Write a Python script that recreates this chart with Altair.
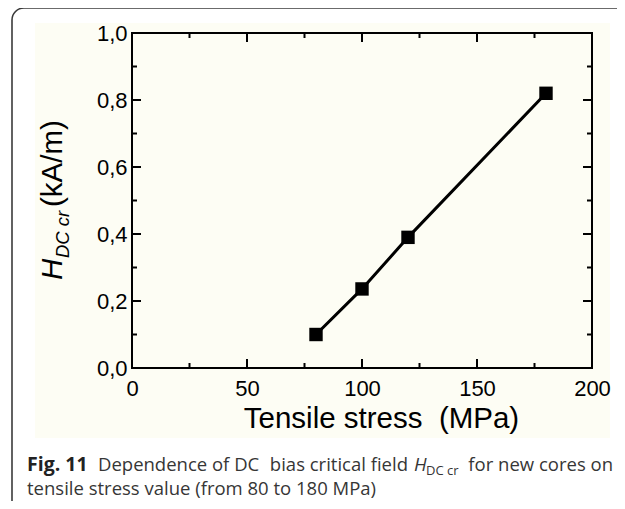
import altair as alt
import pandas as pd

# ---- data ----
stress = [80, 100, 120, 180]
h_dc_cr = [0.10, 0.236, 0.39, 0.82]

x_major = [0, 50, 100, 150, 200]
x_minor = [25, 75, 125, 175]
y_major = [0.0, 0.2, 0.4, 0.6, 0.8, 1.0]
y_minor = [0.1, 0.3, 0.5, 0.7, 0.9]

x_title = "Tensile stress\u00a0\u00a0(MPa)"
y_title_main = "H"
y_title_sub = "DC cr"
y_title_unit = "(kA/m)"
caption_fig = "Fig. 11"
caption_l1a = "Dependence of DC"
caption_l1b = "bias critical field"
caption_h = "H"
caption_sub = "DC cr"
caption_l1_end = "for new cores on"
caption_l2 = "tensile stress value (from 80 to 180 MPa)"

W, H = 460, 335
FONT = "Liberation Sans"
CAP_FONT = "Open Sans"
CAP_COLOR = "#363636"
BOX_COLOR = "#3a3a3a"

xs = alt.Scale(domain=[0, 200], nice=False, zero=False)
ys = alt.Scale(domain=[0, 1], nice=False)

x_axis = alt.Axis(values=x_major, title=None, ticks=False, domain=False, grid=False,
                  labelFont=FONT, labelFontSize=22, labelColor="black", labelPadding=10,
                  labelFlush=False, labelOverlap=False, zindex=2, format="d")
y_axis = alt.Axis(values=y_major, title=None, ticks=False, domain=False, grid=False,
                  labelFont=FONT, labelFontSize=22, labelColor="black", labelPadding=5,
                  labelFlush=False, labelOverlap=False, zindex=2,
                  labelExpr="replace(format(datum.value, '.1f'), '.', ',')")

def blank():
    return alt.Chart(pd.DataFrame({"a": [0]}))

# outer caption box: top edge, left edge and rounded top-left corner
box_top = blank().mark_rule(color=BOX_COLOR, strokeWidth=1.6).encode(
    x=alt.value(-108), x2=alt.value(600), y=alt.value(-25))
box_left = blank().mark_rule(color=BOX_COLOR, strokeWidth=1.6).encode(
    x=alt.value(-120), y=alt.value(-13), y2=alt.value(600))
box_corner = blank().mark_arc(color=BOX_COLOR, radius=12.8, radius2=11.2,
                              theta=4.7124, theta2=6.2832).encode(
    x=alt.value(-108), y=alt.value(-13))

cream = blank().mark_rect(color="#FDFDF4").encode(
    x=alt.value(-97), x2=alt.value(478), y=alt.value(-10), y2=alt.value(405))

def ticks(vals, side, length):
    df = pd.DataFrame({"x": vals, "y": vals})
    base = alt.Chart(df).mark_rule(color="black", strokeWidth=2)
    if side == "bottom":
        return base.encode(x=alt.X("x:Q", scale=xs, axis=x_axis), y=alt.value(H), y2=alt.value(H - length))
    if side == "top":
        return base.encode(x=alt.X("x:Q", scale=xs, axis=x_axis), y=alt.value(0), y2=alt.value(length))
    if side == "left":
        return base.encode(y=alt.Y("y:Q", scale=ys, axis=y_axis), x=alt.value(0), x2=alt.value(length))
    return base.encode(y=alt.Y("y:Q", scale=ys, axis=y_axis), x=alt.value(W), x2=alt.value(W - length))

tick_layers = []
for side in ["bottom", "top"]:
    tick_layers.append(ticks(x_major, side, 9))
    tick_layers.append(ticks(x_minor, side, 5))
for side in ["left", "right"]:
    tick_layers.append(ticks(y_major, side, 9))
    tick_layers.append(ticks(y_minor, side, 5))

frame = blank().mark_rect(color="white", fillOpacity=0, stroke="black", strokeWidth=2).encode(
    x=alt.value(0), x2=alt.value(W), y=alt.value(0), y2=alt.value(H))

df = pd.DataFrame({"x": stress, "y": h_dc_cr})
line = alt.Chart(df).mark_line(color="black", strokeWidth=3).encode(
    x=alt.X("x:Q", scale=xs, axis=x_axis), y=alt.Y("y:Q", scale=ys, axis=y_axis))
pts = alt.Chart(df).mark_point(shape="square", filled=True, size=180, color="black", opacity=1).encode(
    x=alt.X("x:Q", scale=xs, axis=x_axis), y=alt.Y("y:Q", scale=ys, axis=y_axis))

def txt(text, x, y, size, font=FONT, style="normal", weight="normal", align="left",
        angle=0, color="black"):
    return blank().mark_text(text=text, font=font, fontSize=size, fontStyle=style, fontWeight=weight,
                             align=align, baseline="alphabetic", angle=angle, color=color).encode(
        x=alt.value(x), y=alt.value(y))

CS = 18.5
texts = [
    txt(x_title, 249.5, 395, 29.5, align="center"),
    txt(y_title_main, -70, 247, 29.5, style="italic", angle=270),
    txt(y_title_sub, -63, 225, 18.5, style="italic", angle=270),
    txt(y_title_unit, -70, 174, 29.5, angle=270),
    txt(caption_fig, -105, 438, 19.5, font=CAP_FONT, weight="bold", color="#222222"),
    txt(caption_l1a, -34, 438, CS, font=CAP_FONT, color=CAP_COLOR),
    txt(caption_l1b, 276, 438, CS, font=CAP_FONT, align="right", color=CAP_COLOR),
    txt(caption_h, 282, 438, CS, font=CAP_FONT, style="italic", color=CAP_COLOR),
    txt(caption_sub, 294, 442, 13, font=CAP_FONT, color=CAP_COLOR),
    txt(caption_l1_end, 481, 438, CS, font=CAP_FONT, align="right", color=CAP_COLOR),
    txt(caption_l2, -105, 462, CS, font=CAP_FONT, color=CAP_COLOR),
]

chart = alt.layer(box_top, box_left, box_corner, cream, *tick_layers, frame, line, pts, *texts).properties(
    width=W, height=H,
    padding={"left": 124, "top": 25, "right": 25, "bottom": 133},
    autosize=alt.AutoSizeParams(type="none"),
).configure_view(strokeOpacity=0).configure(background="white")

chart.save("out.html", embed_options={"renderer": "svg", "actions": False})
